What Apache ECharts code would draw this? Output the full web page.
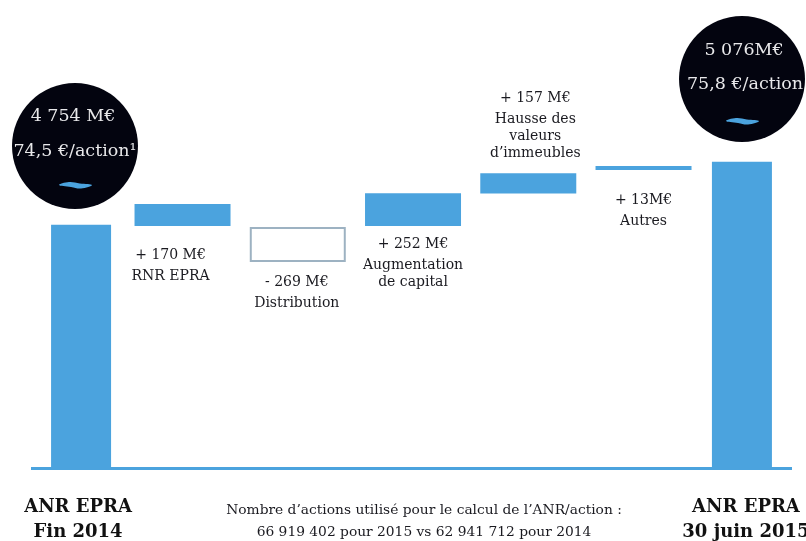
<!DOCTYPE html>
<html>
<head>
<meta charset="utf-8">
<style>html,body{margin:0;padding:0;background:#fff}#chart{width:806px;height:541px}</style>
<script src="https://cdn.jsdelivr.net/npm/echarts@6/dist/echarts.min.js"></script>
</head>
<body>
<div id="chart"></div>
<script>
// Bridge of EPRA NAV between end 2014 and 30 June 2015 (M€)
const endpointNames = ['ANR EPRA\nFin 2014', '', '', '', '', '', 'ANR EPRA\n30 juin 2015'];
const endpointValues = [4754, null, null, null, null, null, 5076];

const stepNames = ['RNR EPRA', 'Distribution', 'Augmentation\nde capital', 'Hausse des\nvaleurs\nd’immeubles', 'Autres'];
const stepAmounts = [170, 269, 252, 157, 13];
const stepBases = [4754, 4477, 4754, 5003, 5185];
const stepAmountLabels = ['+ 170 M€', '- 269 M€', '+ 252 M€', '+ 157 M€', '+ 13M€'];

const BLUE = '#4BA3DE';
const INK = '#1a1a20';
const SERIF = '"DejaVu Serif", "Liberation Serif", serif';

// Label placement for each step: below the bar except for the property revaluation
const stepLabelPlacement = [
  { position: 'bottom', distance: 17, offset: [-12, 0] },
  { position: 'bottom', distance: 8, offset: [-1, 0] },
  { position: 'bottom', distance: 6, offset: [0, 0] },
  { position: 'top', distance: 11, offset: [7, 0] },
  { position: 'bottom', distance: 17.5, offset: [0, 0] }
];

const chart = echarts.init(document.getElementById('chart'), null, { renderer: 'canvas' });

const stepLabel = (i) => {
  const lines = stepNames[i].split('\n').map((l) => `{n|${l}}`).join('\n');
  return `{a|${stepAmountLabels[i]}}\n${lines}`;
};

// Small wave mark inside each badge
const wave = (x, y) => ({
  type: 'polygon',
  z: 12,
  shape: {
    smooth: 0.4,
    points: [[x, y], [x + 10, y - 3], [x + 21, y - 1.5], [x + 33, y], [x + 22, y + 3.5], [x + 12, y + 2]]
  },
  style: { fill: BLUE }
});

const badge = (cx, cy, lines) => [
  { type: 'circle', z: 10, shape: { cx, cy, r: 63 }, style: { fill: '#03040F' } },
  ...lines.map((l) => ({
    type: 'text', z: 12, x: l.x, y: l.y,
    style: { text: l.text, fill: '#E8E8EA', font: `17.5px ${SERIF}`, align: 'center', verticalAlign: 'middle' }
  }))
];

const endpointLabelStyle = { color: '#111', fontFamily: SERIF, fontWeight: 'bold', fontSize: 18, lineHeight: 25 };

chart.setOption({
  animation: false,
  backgroundColor: '#ffffff',
  grid: [
    { left: 124.9, width: 576.25, top: 155, height: 312, outerBoundsMode: 'none' },
    { left: 26, width: 771, top: 158, height: 309, outerBoundsMode: 'none' }
  ],
  xAxis: [
    { type: 'category', gridIndex: 0, data: stepNames, show: false },
    {
      type: 'category', gridIndex: 1, data: endpointNames,
      axisLine: { show: false }, axisTick: { show: false },
      axisLabel: {
        interval: 0, margin: 28, hideOverlap: false,
        formatter: (value, index) => {
          const style = index === 0 ? 'l' : 'r';
          return value.split('\n').map((line) => `{${style}|${line}}`).join('\n');
        },
        rich: {
          l: { ...endpointLabelStyle, padding: [0, 6, 0, 0] },
          r: { ...endpointLabelStyle, padding: [0, 0, 0, 8] }
        }
      }
    }
  ],
  yAxis: [
    { type: 'value', gridIndex: 0, min: 2900, max: 5300, show: false },
    { type: 'value', gridIndex: 1, min: 3515, max: 5095, show: false }
  ],
  series: [
    {
      name: 'ANR EPRA', type: 'bar', xAxisIndex: 1, yAxisIndex: 1,
      barWidth: 60, data: endpointValues, itemStyle: { color: BLUE }
    },
    {
      name: 'base', type: 'bar', stack: 'step', xAxisIndex: 0, yAxisIndex: 0,
      barWidth: 96, data: stepBases, itemStyle: { color: 'rgba(0,0,0,0)' }, silent: true
    },
    {
      name: 'variation', type: 'bar', stack: 'step', xAxisIndex: 0, yAxisIndex: 0,
      barWidth: 96, barMinHeight: 4,
      data: stepAmounts.map((value, i) => {
        const negative = stepAmountLabels[i].startsWith('-');
        return {
          value,
          itemStyle: negative
            ? { color: '#ffffff', borderColor: '#9DB2C2', borderWidth: 2 }
            : { color: BLUE },
          label: {
            show: true,
            position: stepLabelPlacement[i].position,
            distance: stepLabelPlacement[i].distance,
            offset: stepLabelPlacement[i].offset,
            formatter: stepLabel(i),
            rich: {
              a: { fontFamily: SERIF, fontSize: 14, color: INK, lineHeight: 25, align: 'center' },
              n: { fontFamily: SERIF, fontSize: 14, color: INK, lineHeight: 17, align: 'center' }
            }
          }
        };
      })
    }
  ],
  graphic: [
    { type: 'rect', z: 5, shape: { x: 31, y: 467, width: 761, height: 3 }, style: { fill: BLUE } },
    ...badge(75, 146, [
      { text: '4 754 M€', x: 73, y: 116 },
      { text: '74,5 €/action¹', x: 75, y: 151 }
    ]),
    wave(59, 185),
    ...badge(742, 79, [
      { text: '5 076M€', x: 744, y: 50 },
      { text: '75,8 €/action', x: 745, y: 84 }
    ]),
    wave(726, 121),
    {
      type: 'text', x: 424, y: 510,
      style: { text: 'Nombre d’actions utilisé pour le calcul de l’ANR/action :', fill: INK, font: `13.8px ${SERIF}`, align: 'center', verticalAlign: 'middle' }
    },
    {
      type: 'text', x: 424, y: 532,
      style: { text: '66 919 402 pour 2015 vs 62 941 712 pour 2014', fill: INK, font: `13.8px ${SERIF}`, align: 'center', verticalAlign: 'middle' }
    }
  ]
});
</script>
</body>
</html>
